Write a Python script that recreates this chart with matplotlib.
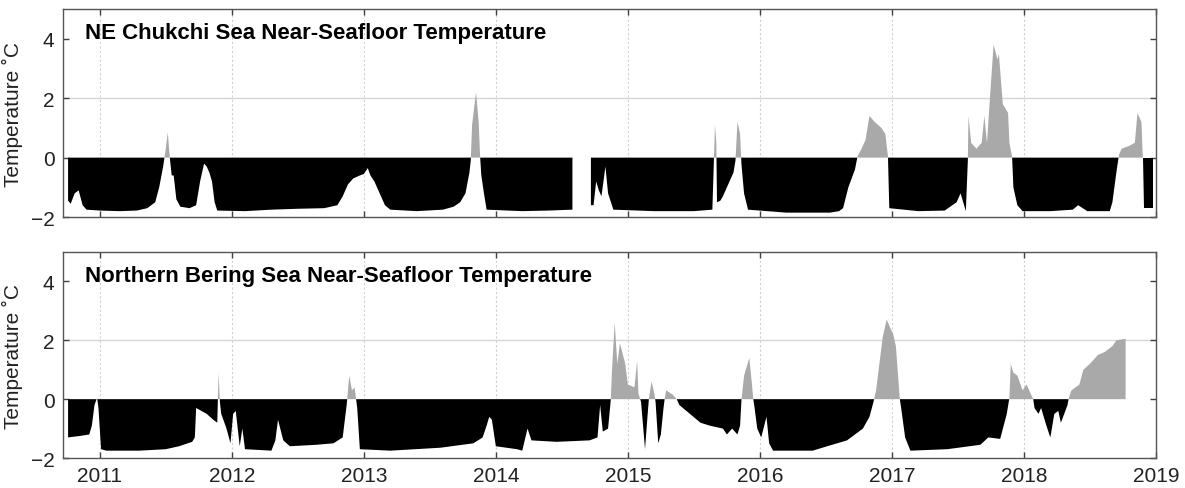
import numpy as np
import matplotlib

matplotlib.use("Agg")
from matplotlib import pyplot as plt

plt.rcParams["font.family"] = ["Liberation Sans", "DejaVu Sans"]

# NE Chukchi Sea near-seafloor temperature (decimal year, deg C)
chukchi_year = [
    2010.76, 2010.78, 2010.81, 2010.84, 2010.87, 2010.90, 2011.00, 2011.15, 2011.28, 2011.36,
    2011.42, 2011.45, 2011.48, 2011.50, 2011.515, 2011.525, 2011.535, 2011.545, 2011.56, 2011.58,
    2011.61, 2011.68, 2011.73, 2011.76, 2011.79, 2011.81, 2011.83, 2011.85, 2011.87, 2011.89,
    2012.10, 2012.30, 2012.50, 2012.70, 2012.80, 2012.84, 2012.88, 2012.92, 2012.97, 2013.00,
    2013.03, 2013.05, 2013.08, 2013.12, 2013.16, 2013.20, 2013.40, 2013.60, 2013.68, 2013.73,
    2013.77, 2013.80, 2013.81, 2013.82, 2013.85, 2013.87, 2013.88, 2013.89, 2013.91, 2013.93,
    2014.20, 2014.40, 2014.58, 2014.59, 2014.72, 2014.74, 2014.76, 2014.78, 2014.80, 2014.83,
    2014.85, 2014.89, 2015.20, 2015.50, 2015.64, 2015.66, 2015.67, 2015.675, 2015.70, 2015.72,
    2015.75, 2015.80, 2015.815, 2015.83, 2015.85, 2015.86, 2015.88, 2015.91, 2016.20, 2016.53,
    2016.60, 2016.63, 2016.67, 2016.72, 2016.74, 2016.77, 2016.80, 2016.83, 2016.87, 2016.92,
    2016.95, 2016.97, 2016.98, 2017.20, 2017.40, 2017.49, 2017.52, 2017.54, 2017.56, 2017.575,
    2017.58, 2017.60, 2017.64, 2017.68, 2017.70, 2017.72, 2017.75, 2017.77, 2017.80, 2017.81,
    2017.84, 2017.88, 2017.89, 2017.91, 2017.92, 2017.95, 2017.99, 2018.20, 2018.37, 2018.41,
    2018.48, 2018.65, 2018.67, 2018.70, 2018.72, 2018.74, 2018.80, 2018.84, 2018.86, 2018.89,
    2018.90, 2018.91, 2018.98,
]
chukchi_temp = [
    -1.45, -1.55, -1.2, -1.1, -1.6, -1.75, -1.78, -1.8, -1.78, -1.7,
    -1.5, -1.0, -0.3, 0.3, 0.85, 0.3, -0.2, -0.6, -0.6, -1.4,
    -1.65, -1.7, -1.6, -0.8, -0.2, -0.3, -0.5, -0.8, -1.5, -1.78,
    -1.8, -1.75, -1.72, -1.7, -1.6, -1.3, -0.9, -0.7, -0.6, -0.55,
    -0.35, -0.6, -0.8, -1.2, -1.6, -1.75, -1.8, -1.75, -1.65, -1.5,
    -1.2, -0.5, -0.1, 1.1, 2.2, 1.2, 0.1, -0.6, -1.2, -1.75,
    -1.8, -1.78, -1.75, np.nan, -1.6, -1.6, -0.8, -1.1, -1.3, -0.3,
    -1.2, -1.75, -1.8, -1.8, -1.75, 1.1, 0.5, -1.5, -1.45, -1.3,
    -1.0, -0.5, -0.1, 1.2, 0.8, -0.2, -1.2, -1.75, -1.85, -1.85,
    -1.8, -1.7, -1.0, -0.4, 0.05, 0.3, 0.6, 1.4, 1.2, 1.0,
    0.8, 0.05, -1.7, -1.8, -1.78, -1.5, -1.2, -1.5, -1.8, -0.1,
    1.4, 0.5, 0.3, 0.5, 1.4, 0.5, 2.5, 3.8, 3.3, 3.5,
    1.8, 1.5, 0.5, 0.05, -1.0, -1.6, -1.8, -1.8, -1.75, -1.6,
    -1.8, -1.8, -1.5, -0.5, 0.1, 0.3, 0.4, 0.5, 1.5, 1.2,
    0.05, -1.7, -1.7,
]

# Northern Bering Sea near-seafloor temperature
bering_year = [
    2010.76, 2010.85, 2010.92, 2010.94, 2010.96, 2010.98, 2010.99, 2011.01, 2011.05, 2011.30,
    2011.50, 2011.60, 2011.70, 2011.72, 2011.73, 2011.77, 2011.81, 2011.86, 2011.89, 2011.90,
    2011.91, 2011.92, 2011.96, 2011.99, 2012.01, 2012.03, 2012.06, 2012.08, 2012.10, 2012.30,
    2012.33, 2012.35, 2012.39, 2012.44, 2012.64, 2012.77, 2012.84, 2012.87, 2012.89, 2012.91,
    2012.93, 2012.95, 2012.97, 2013.20, 2013.58, 2013.83, 2013.90, 2013.93, 2013.95, 2013.97,
    2014.00, 2014.16, 2014.20, 2014.24, 2014.27, 2014.46, 2014.71, 2014.77, 2014.79, 2014.81,
    2014.85, 2014.87, 2014.88, 2014.90, 2014.92, 2014.94, 2014.98, 2015.00, 2015.05, 2015.07,
    2015.08, 2015.10, 2015.13, 2015.15, 2015.16, 2015.18, 2015.20, 2015.21, 2015.23, 2015.25,
    2015.27, 2015.28, 2015.29, 2015.34, 2015.37, 2015.39, 2015.47, 2015.55, 2015.62, 2015.72,
    2015.75, 2015.79, 2015.83, 2015.85, 2015.86, 2015.88, 2015.92, 2015.94, 2015.95, 2015.96,
    2015.98, 2016.01, 2016.05, 2016.07, 2016.10, 2016.40, 2016.51, 2016.66, 2016.78, 2016.83,
    2016.86, 2016.88, 2016.93, 2016.96, 2017.01, 2017.03, 2017.06, 2017.07, 2017.10, 2017.14,
    2017.42, 2017.67, 2017.73, 2017.82, 2017.87, 2017.89, 2017.90, 2017.92, 2017.95, 2017.99,
    2018.02, 2018.05, 2018.07, 2018.08, 2018.11, 2018.13, 2018.17, 2018.20, 2018.23, 2018.26,
    2018.28, 2018.33, 2018.34, 2018.36, 2018.42, 2018.45, 2018.50, 2018.56, 2018.61, 2018.67,
    2018.70, 2018.77,
]
bering_temp = [
    -1.3, -1.25, -1.2, -0.9, -0.2, 0.05, -0.3, -1.7, -1.75, -1.75,
    -1.7, -1.6, -1.45, -1.3, -0.3, -0.4, -0.5, -0.7, -0.8, 0.9,
    -0.1, -0.5, -1.0, -1.5, -0.5, -0.4, -1.6, -1.0, -1.7, -1.75,
    -1.4, -0.7, -1.4, -1.6, -1.55, -1.5, -1.3, -0.2, 0.8, 0.3,
    0.4, -0.3, -1.7, -1.75, -1.65, -1.5, -1.3, -0.9, -0.6, -0.7,
    -1.6, -1.7, -1.75, -1.0, -1.4, -1.45, -1.4, -1.3, -0.2, -1.1,
    -1.0, -0.05, 1.0, 2.6, 1.2, 1.9, 1.2, 0.5, 0.4, 1.3,
    0.2, -0.1, -1.7, -0.5, 0.05, 0.6, 0.2, -0.1, -1.5, -1.2,
    -0.3, 0.05, 0.3, 0.15, 0.0, -0.2, -0.5, -0.8, -0.9, -1.0,
    -1.2, -1.0, -1.2, -0.9, -0.05, 0.8, 1.4, 0.5, 0.0, -0.3,
    -1.0, -1.3, -0.6, -1.5, -1.75, -1.75, -1.6, -1.4, -1.0, -0.6,
    -0.1, 0.3, 2.1, 2.7, 2.2, 1.8, 0.0, -0.3, -1.3, -1.75,
    -1.7, -1.55, -1.3, -1.35, -0.5, 0.05, 1.2, 0.9, 0.8, 0.3,
    0.5, 0.2, 0.0, -0.3, -0.5, -0.3, -0.9, -1.3, -0.5, -0.4,
    -0.8, -0.2, 0.05, 0.3, 0.5, 1.0, 1.2, 1.5, 1.6, 1.8,
    2.0, 2.05,
]

titles = [
    "NE Chukchi Sea Near-Seafloor Temperature",
    "Northern Bering Sea Near-Seafloor Temperature",
]
years = list(range(2011, 2020))

fig = plt.figure(figsize=(11.85, 4.89), dpi=100)
ax_top = fig.add_axes([0.053, 0.554, 0.9225, 0.4256])
ax_bot = fig.add_axes([0.053, 0.0613, 0.9225, 0.4213])

for ax, t, temp, title in [
    (ax_top, chukchi_year, chukchi_temp, titles[0]),
    (ax_bot, bering_year, bering_temp, titles[1]),
]:
    t = np.array(t)
    temp = np.array(temp, dtype=float)
    # grid first so the fill sits on top
    for yr in years:
        ax.axvline(yr, color="#d0d0d0", lw=0.8, ls=(0, (2, 2)), zorder=0)
    ax.axhline(2, color="#d6d6d6", lw=1.0, zorder=0)

    ax.fill_between(t, 0, temp, where=temp >= 0, interpolate=True,
                    color="#a9a9a9", lw=0, zorder=2)
    ax.fill_between(t, 0, temp, where=temp <= 0, interpolate=True,
                    color="black", lw=0, zorder=2)

    ax.set_xlim(2010.72, 2019.0)
    ax.set_ylim(-2, 5)
    ax.set_xticks(years)
    ax.set_yticks([-2, 0, 2, 4])
    ax.tick_params(direction="in", length=4, width=1, colors="#404040",
                   labelsize=15, labelcolor="#222222", top=True, right=True,
                   pad=6)
    for s in ax.spines.values():
        s.set_color("#555555")
        s.set_linewidth(1.0)
    ax.set_ylabel("Temperature \u02daC", fontsize=15, color="#222222")
    ax.text(0.02, 0.86, title, transform=ax.transAxes, fontsize=16,
            fontweight="bold", color="black", va="baseline", ha="left")

ax_top.tick_params(labelbottom=False)
ax_top.yaxis.set_label_coords(-0.036, 0.5)
ax_bot.yaxis.set_label_coords(-0.036, 0.5)

fig.savefig("out.png", dpi=100)
